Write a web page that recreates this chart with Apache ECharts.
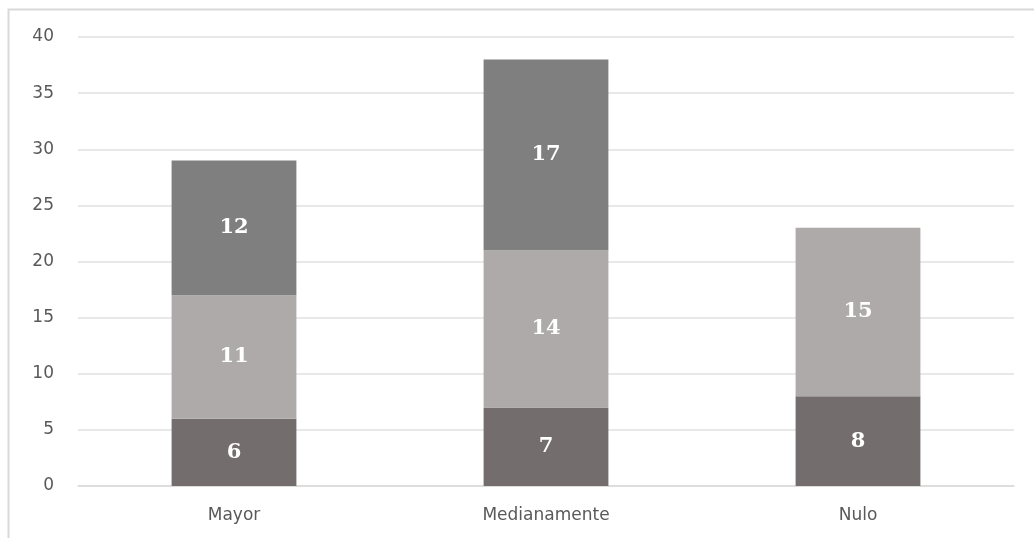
<!DOCTYPE html>
<html><head><meta charset="utf-8">
<script src="https://cdn.jsdelivr.net/npm/echarts@6/dist/echarts.min.js"></script>
<style>html,body{margin:0;padding:0;background:#fff}#c{width:1034px;height:538px}</style>
</head><body><div id="c"></div>
<script>
const categories = ['Mayor', 'Medianamente', 'Nulo'];
const bottomValues = [6, 7, 8];
const middleValues = [11, 14, 15];
const topValues = [12, 17, 0];
const yTicks = [0, 5, 10, 15, 20, 25, 30, 35, 40];

const chart = echarts.init(document.getElementById('c'));
const labelStyle = {
  show: true, position: 'inside', color: '#ffffff',
  fontFamily: 'DejaVu Serif', fontWeight: 'bold', fontSize: 21,
  formatter: p => (p.value ? p.value : '')
};
function series(name, data, color) {
  return {
    name, type: 'bar', stack: 'total', data, barWidth: '40%',
    itemStyle: { color }, label: labelStyle, silent: true
  };
}
chart.setOption({
  animation: false,
  backgroundColor: '#ffffff',
  graphic: [{
    type: 'rect', shape: { x: 8.5, y: 9.5, width: 1040, height: 560 },
    style: { fill: 'none', stroke: '#d9d9d9', lineWidth: 2 }, z: 0
  }],
  grid: { left: 78, right: 20, top: 37, bottom: 52 },
  xAxis: {
    type: 'category', data: categories,
    axisLine: { show: true, lineStyle: { color: '#d9d9d9', width: 1.5 } },
    axisTick: { show: false },
    axisLabel: { color: '#595959', fontSize: 17, fontFamily: 'DejaVu Sans', margin: 21 }
  },
  yAxis: {
    type: 'value', min: yTicks[0], max: yTicks[yTicks.length - 1], interval: 5,
    axisLine: { show: false }, axisTick: { show: false },
    axisLabel: { color: '#595959', fontSize: 17, fontFamily: 'DejaVu Sans', margin: 24 },
    splitLine: { lineStyle: { color: '#e0e0e0', width: 1.5 } }
  },
  series: [
    series('A', bottomValues, '#736e6d'),
    series('B', middleValues, '#aeaaa9'),
    series('C', topValues, '#7f7f7f')
  ]
});
</script></body></html>
